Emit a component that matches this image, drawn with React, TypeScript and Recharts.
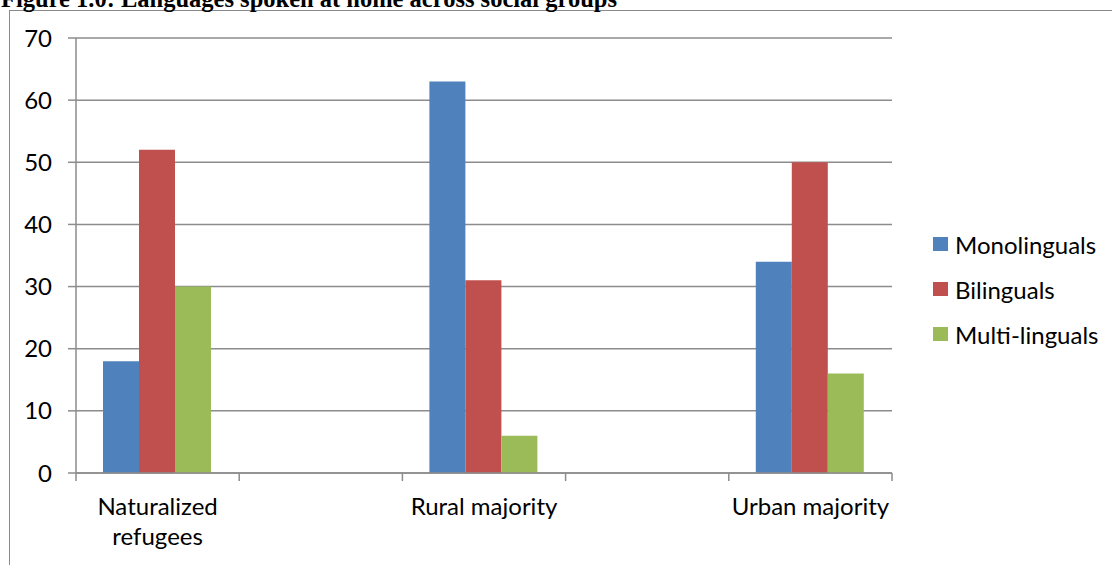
import React from "react";
import { BarChart, Bar, XAxis, YAxis, CartesianGrid } from "recharts";

const categories = ["Naturalized refugees", "", "Rural majority", "", "Urban majority"];
const monolinguals = [18, null, 63, null, 34];
const bilinguals = [52, null, 31, null, 50];
const multilinguals = [30, null, 6, null, 16];
const yTicks = [0, 10, 20, 30, 40, 50, 60, 70];
const seriesKeys = ["mono", "bi", "multi"];
const seriesNames = ["Monolinguals", "Bilinguals", "Multi-linguals"];
const seriesColors = ["#4F81BD", "#C0504D", "#9BBB59"];
const titleText = "Figure 1.0: Languages spoken at home across social groups";

const data = categories.map((c, i) => ({
  name: c,
  mono: monolinguals[i],
  bi: bilinguals[i],
  multi: multilinguals[i],
}));

const FONT = "Lato, 'Open Sans', sans-serif";
const FS = 24;
const GRID = "#8c8c8c";

const XTick = (props: any) => {
  const { x, y, payload, index, visibleTicksCount } = props;
  const half = payload && payload.offset ? payload.offset : 81.6;
  const label: string = payload.value || "";
  const lines = label.length > 16 ? label.split(" ") : label ? [label] : [];
  const top = y - 8;
  return (
    <g>
      <line x1={x - half} x2={x - half} y1={top} y2={top + 8} stroke={GRID} strokeWidth={1.5} />
      {index === visibleTicksCount - 1 && (
        <line x1={x + half} x2={x + half} y1={top} y2={top + 8} stroke={GRID} strokeWidth={1.5} />
      )}
      {lines.map((ln, i) => (
        <text
          key={i}
          x={x}
          y={top + 42 + i * 30}
          textAnchor="middle"
          fontFamily={FONT}
          fontSize={FS}
          fill="#000"
        >
          {ln}
        </text>
      ))}
    </g>
  );
};

export default function App() {
  return (
    <div
      style={{
        position: "fixed",
        left: 0,
        top: 0,
        width: 1112,
        height: 565,
        overflow: "hidden",
        background: "#fff",
      }}
    >
      <div
        style={{
          position: "absolute",
          left: 9,
          top: 10,
          width: 1300,
          height: 800,
          border: "1.5px solid #8a8a8a",
        }}
      />
      <svg style={{ position: "absolute", left: 0, top: 0 }} width={1112} height={30}>
        <text
          x={1}
          y={7}
          fontFamily="'Liberation Serif', 'Times New Roman', serif"
          fontWeight="bold"
          fontSize={24.5}
          fill="#000"
        >
          {titleText}
        </text>
      </svg>
      <div style={{ position: "absolute", left: 0, top: 0 }}>
        <BarChart
          width={1112}
          height={565}
          data={data}
          margin={{ top: 38, right: 220, bottom: 32, left: 6 }}
          barCategoryGap={27}
          barGap={0}
        >
          <CartesianGrid vertical={false} stroke={GRID} strokeWidth={1.5} />
          <XAxis
            dataKey="name"
            height={60}
            axisLine={{ stroke: GRID, strokeWidth: 1.5 }}
            tickLine={false}
            tickSize={8}
            tickMargin={0}
            interval={0}
            tick={<XTick />}
          />
          <YAxis
            width={70}
            domain={[0, 70]}
            ticks={yTicks}
            interval={0}
            axisLine={{ stroke: GRID, strokeWidth: 1.5 }}
            tickLine={{ stroke: GRID, strokeWidth: 1.5 }}
            tickSize={8}
            tickMargin={16}
            tick={{ fontFamily: FONT, fontSize: FS, fill: "#000" }}
          />
          {seriesKeys.map((k, i) => (
            <Bar key={k} dataKey={k} name={seriesNames[i]} fill={seriesColors[i]} isAnimationActive={false} />
          ))}
        </BarChart>
      </div>
      <div style={{ position: "absolute", left: 933, top: 229 }}>
        {seriesNames.map((n, i) => (
          <div
            key={n}
            style={{
              display: "flex",
              alignItems: "center",
              height: 30,
              marginBottom: 15,
              fontFamily: FONT,
              fontSize: FS,
              color: "#000",
            }}
          >
            <div style={{ width: 15, height: 14, background: seriesColors[i], marginRight: 7 }} />
            <span>{n}</span>
          </div>
        ))}
      </div>
    </div>
  );
}
